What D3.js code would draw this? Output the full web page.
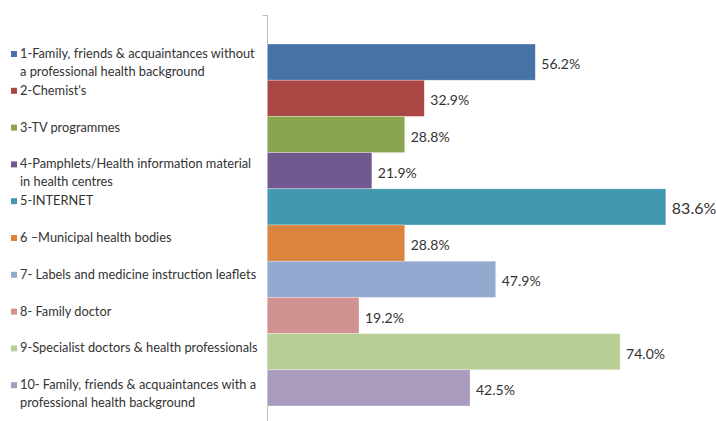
<!DOCTYPE html>
<html>
<head>
<meta charset="utf-8">
<script src="https://cdn.jsdelivr.net/npm/d3@7"></script>
<style>
  html, body { margin: 0; padding: 0; background: #fff; }
  svg { display: block; }
  text { font-family: Lato, "Open Sans", sans-serif; fill: #333; }
</style>
</head>
<body>
<svg id="chart" width="716" height="421"></svg>
<script>
// Information sources and the share of respondents who use each one
const categories = [
  "1-Family, friends & acquaintances without a professional health background",
  "2-Chemist's",
  "3-TV programmes",
  "4-Pamphlets/Health information material in health centres",
  "5-INTERNET",
  "6 \u2013Municipal health bodies",
  "7- Labels and medicine instruction leaflets",
  "8- Family doctor",
  "9-Specialist doctors & health professionals",
  "10- Family, friends & acquaintances with a professional health background"
];
const legendLines = [
  ["1-Family, friends & acquaintances without", "a professional health background"],
  ["2-Chemist's"],
  ["3-TV programmes"],
  ["4-Pamphlets/Health information material", "in health centres"],
  ["5-INTERNET"],
  ["6 \u2013Municipal health bodies"],
  ["7- Labels and medicine instruction leaflets"],
  ["8- Family doctor"],
  ["9-Specialist doctors & health professionals"],
  ["10- Family, friends & acquaintances with a", "professional health background"]
];
const values = [56.2, 32.9, 28.8, 21.9, 83.6, 28.8, 47.9, 19.2, 74.0, 42.5];
const colors = ["#4572A7", "#AA4643", "#89A54E", "#71588F", "#4198AF",
                "#DB843D", "#93A9CF", "#D19392", "#B9CD96", "#A99BBD"];

const svg = d3.select("#chart");

const axisX = 267;
const x = d3.scaleLinear().domain([0, 100]).range([axisX, axisX + 476.5]);
const y = d3.scaleBand().domain(categories).range([44, 406]).padding(0);
const color = d3.scaleOrdinal().domain(categories).range(colors);

// vertical category axis with a small tick at the top
const axis = d3.axisLeft(d3.scaleLinear().domain([0, 1]).range([421, 15]))
  .tickValues([1]).tickSize(4).tickFormat("");
svg.append("g")
  .attr("transform", `translate(${axisX},0)`)
  .call(axis)
  .call(g => g.selectAll("path, line").attr("stroke", "#bdbdbd").attr("stroke-width", 1))
  .call(g => g.select(".domain").attr("d", "M-4.5,15.5H0.5V421"));

const data = categories.map((c, i) => ({ c, v: values[i], lines: legendLines[i] }));

// bars
svg.append("g").selectAll("rect")
  .data(data)
  .join("rect")
  .attr("x", x(0) + 0.5)
  .attr("y", d => y(d.c))
  .attr("width", d => x(d.v) - x(0))
  .attr("height", y.bandwidth())
  .attr("fill", d => color(d.c))
  .attr("stroke", "#fff")
  .attr("stroke-opacity", 0.5)
  .attr("stroke-width", 0.6);

// value labels
svg.append("g").selectAll("text")
  .data(data)
  .join("text")
  .attr("x", d => x(d.v) + 6.5)
  .attr("y", d => y(d.c) + y.bandwidth() / 2 + 7)
  .attr("font-size", d => d.v > 80 ? 16 : 14)
  .text(d => d3.format(".1f")(d.v) + "%");

// legend on the left
const legendY = d3.scaleBand().domain(categories).range([40, 408]);
const items = svg.append("g").selectAll("g")
  .data(data)
  .join("g")
  .attr("transform", d => `translate(0,${legendY(d.c)})`);

items.append("rect")
  .attr("x", 11).attr("y", 11)
  .attr("width", 6).attr("height", 6)
  .attr("fill", d => color(d.c));

items.append("text")
  .attr("font-size", 12.8)
  .selectAll("tspan")
  .data(d => d.lines)
  .join("tspan")
  .attr("x", 20)
  .attr("y", (l, i) => 18 + i * 18)
  .text(l => l);
</script>
</body>
</html>
